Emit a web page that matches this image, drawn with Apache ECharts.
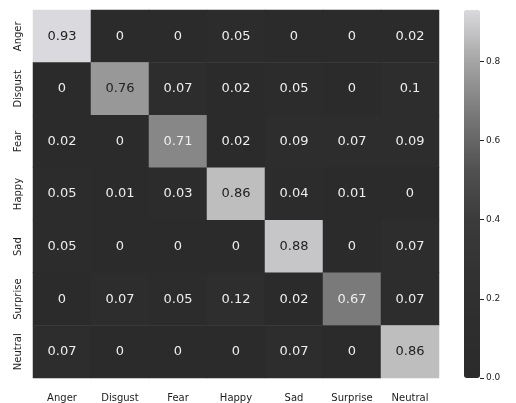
<!DOCTYPE html>
<html>
<head>
<meta charset="utf-8">
<script src="https://cdn.jsdelivr.net/npm/echarts@6/dist/echarts.min.js"></script>
<style>
html,body{margin:0;padding:0;background:#fff;}
#c{width:516px;height:403px;}
</style>
</head>
<body>
<div id="c"></div>
<script>
const categories = ['Anger', 'Disgust', 'Fear', 'Happy', 'Sad', 'Surprise', 'Neutral'];
const rowAnger    = [0.93, 0,    0,    0.05, 0,    0,    0.02];
const rowDisgust  = [0,    0.76, 0.07, 0.02, 0.05, 0,    0.1];
const rowFear     = [0.02, 0,    0.71, 0.02, 0.09, 0.07, 0.09];
const rowHappy    = [0.05, 0.01, 0.03, 0.86, 0.04, 0.01, 0];
const rowSad      = [0.05, 0,    0,    0,    0.88, 0,    0.07];
const rowSurprise = [0,    0.07, 0.05, 0.12, 0.02, 0.67, 0.07];
const rowNeutral  = [0.07, 0,    0,    0,    0.07, 0,    0.86];
const colorbarTicks = [0, 0.2, 0.4, 0.6, 0.8];
const colorMin = 0;
const colorMax = 0.93;

const rows = [rowAnger, rowDisgust, rowFear, rowHappy, rowSad, rowSurprise, rowNeutral];
const data = [];
rows.forEach((row, r) => {
  row.forEach((v, c) => {
    data.push({
      value: [c, r, v],
      label: { color: v > 0.74 ? '#222222' : '#eeeeee' }
    });
  });
});

const font = 'DejaVu Sans';
const chart = echarts.init(document.getElementById('c'));
chart.setOption({
  backgroundColor: '#ffffff',
  animation: false,
  grid: [
    { left: 33, top: 10, width: 406, height: 369 },
    { left: 480, top: 10, width: 20, height: 368 }
  ],
  xAxis: [
    {
      type: 'category', data: categories, gridIndex: 0,
      axisLine: { show: false }, axisTick: { show: false }, splitLine: { show: false },
      axisLabel: { fontFamily: font, fontSize: 10, color: '#222', margin: 15, interval: 0 }
    },
    { type: 'value', gridIndex: 1, show: false, min: 0, max: 1 }
  ],
  yAxis: [
    {
      type: 'category', data: categories, gridIndex: 0, inverse: true,
      axisLine: { show: false }, axisTick: { show: false }, splitLine: { show: false },
      axisLabel: { fontFamily: font, fontSize: 10, color: '#222', rotate: 90, margin: 10, interval: 0 }
    },
    {
      type: 'value', gridIndex: 1, position: 'left', min: colorMin, max: colorMax,
      axisLine: { show: false }, splitLine: { show: false },
      axisTick: { show: true, inside: true, length: 4, lineStyle: { color: '#222', width: 1 }, customValues: colorbarTicks },
      axisLabel: { inside: true, fontFamily: font, fontSize: 9, color: '#222', margin: 6,
        customValues: colorbarTicks, formatter: v => Number(v).toFixed(1) }
    }
  ],
  visualMap: {
    type: 'continuous', min: colorMin, max: colorMax, calculable: false,
    show: true, left: 464, top: 10, itemWidth: 16, itemHeight: 368,
    padding: 0, text: null, showLabel: false, seriesIndex: 0, hoverLink: false,
    inRange: { color: ['#2b2b2b', '#2e2e2e', '#323232', '#3b3b3b', '#525252', '#787878', '#a4a4a4', '#dadade'] }
  },
  series: [
    {
      type: 'heatmap', xAxisIndex: 0, yAxisIndex: 0, data: data,
      label: {
        show: true, fontFamily: font, fontSize: 13,
        formatter: p => String(p.value[2])
      },
      itemStyle: { borderWidth: 0 }
    },
    { type: 'scatter', xAxisIndex: 1, yAxisIndex: 1, data: [], silent: true }
  ]
});
</script>
</body>
</html>
